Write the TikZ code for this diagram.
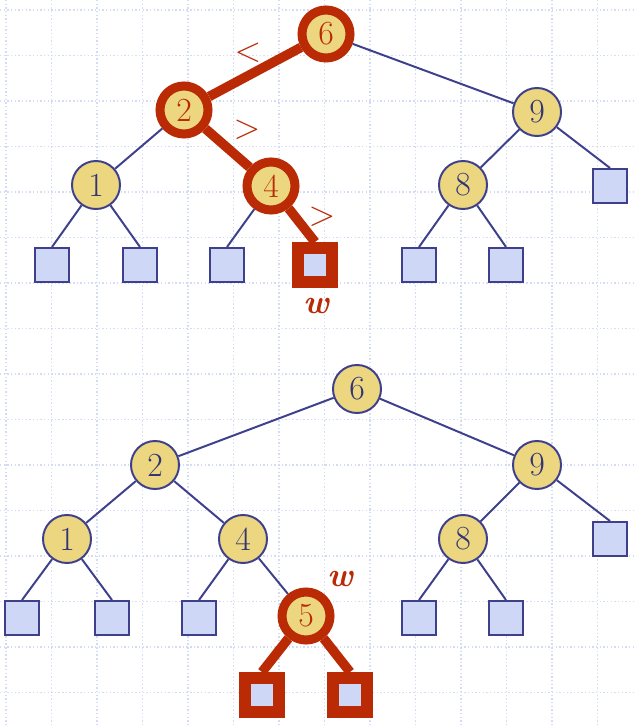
\documentclass[tikz,border=0pt]{standalone}

\definecolor{keyfill}{RGB}{236,214,128}
\definecolor{edgeblue}{RGB}{62,64,140}
\definecolor{keytext}{RGB}{50,52,115}
\definecolor{leaffill}{RGB}{206,216,246}
\definecolor{pathred}{RGB}{185,42,5}
\definecolor{gridblue}{RGB}{212,220,245}

\begin{document}
\begin{tikzpicture}[
  x=0.025cm, y=-0.025cm,
  key/.style={circle, draw=edgeblue, line width=1.4pt, fill=keyfill, inner sep=0pt,
              minimum size=1.2cm, text=keytext, font=\fontsize{24}{26}\selectfont},
  keyred/.style={key, draw=pathred, line width=6.4pt, text=pathred},
  leaf/.style={rectangle, draw=edgeblue, line width=1.4pt, fill=leaffill, inner sep=0pt,
               minimum size=0.85cm},
  leafred/.style={leaf, draw=pathred, line width=8.5pt},
  link/.style={draw=edgeblue, line width=1.4pt},
  linkred/.style={draw=pathred, line width=6.8pt},
  cmp/.style={text=pathred, font=\fontsize{24}{26}\selectfont},
  wlabel/.style={text=pathred, font=\fontsize{24}{26}\selectfont\bfseries\itshape},
  gridline/.style={draw=gridblue, line width=0.8pt, dash pattern=on 1pt off 1.6pt}
]

% page and dotted grid
\fill[white] (0,0) rectangle (634,727);
\useasboundingbox (0,0) rectangle (634,727);
\foreach \gx in {0,...,13} \draw[gridline] ({6+45.5*\gx},0) -- ++(0,727);
\foreach \gy in {0,...,15} \draw[gridline] (0,{10+45.5*\gy}) -- ++(634,0);

% top tree: search for 5
\node[keyred] (t6) at (326,34)  {6};
\node[keyred] (t2) at (184,110) {2};
\node[key]    (t9) at (537,112) {9};
\node[key]    (t1) at (96,185)  {1};
\node[keyred] (t4) at (271,186) {4};
\node[key]    (t8) at (463,185) {8};

\node[leaf]     (t9r) at (610,186) {};
\node[leaf]     (t1l) at (52,265)  {};
\node[leaf]     (t1r) at (140,265) {};
\node[leaf]     (t4l) at (227,265) {};
\node[leafred]  (t4r) at (315,265) {};
\node[leaf]     (t8l) at (419,265) {};
\node[leaf]     (t8r) at (506,265) {};

\node[cmp]    (lt)  at (248,53)  {$<$};
\node[cmp]    (gt1) at (247,130) {$>$};
\node[cmp]    (gt2) at (322,217) {$>$};
\node[wlabel] (tw)  at (316,306) {w};

\draw[linkred] (t6) -- (t2);
\draw[link]    (t6) -- (t9);
\draw[link]    (t2) -- (t1);
\draw[linkred] (t2) -- (t4);
\draw[link]    (t9) -- (t8);
\draw[link]    (t9) -- (t9r.north);
\draw[link]    (t1) -- (t1l.north);
\draw[link]    (t1) -- (t1r.north);
\draw[link]    (t4) -- (t4l.north);
\draw[linkred] (t4) -- (t4r.north);
\draw[link]    (t8) -- (t8l.north);
\draw[link]    (t8) -- (t8r.north);

% bottom tree: after inserting 5
\node[key]    (b6) at (357,389) {6};
\node[key]    (b2) at (155,465) {2};
\node[key]    (b9) at (537,465) {9};
\node[key]    (b1) at (67,539)  {1};
\node[key]    (b4) at (243,539) {4};
\node[key]    (b8) at (463,539) {8};
\node[keyred] (b5) at (306,616) {5};

\node[leaf]    (b9r) at (610,539) {};
\node[leaf]    (b1l) at (22,618)  {};
\node[leaf]    (b1r) at (112,618) {};
\node[leaf]    (b4l) at (199,618) {};
\node[leaf]    (b8l) at (419,618) {};
\node[leaf]    (b8r) at (506,618) {};
\node[leafred] (b5l) at (262,695) {};
\node[leafred] (b5r) at (350,695) {};

\node[wlabel] (bw) at (340,579) {w};

\draw[link]    (b6) -- (b2);
\draw[link]    (b6) -- (b9);
\draw[link]    (b2) -- (b1);
\draw[link]    (b2) -- (b4);
\draw[link]    (b9) -- (b8);
\draw[link]    (b9) -- (b9r.north);
\draw[link]    (b1) -- (b1l.north);
\draw[link]    (b1) -- (b1r.north);
\draw[link]    (b4) -- (b4l.north);
\draw[link]    (b4) -- (b5);
\draw[link]    (b8) -- (b8l.north);
\draw[link]    (b8) -- (b8r.north);
\draw[linkred] (b5) -- (b5l.north);
\draw[linkred] (b5) -- (b5r.north);

\end{tikzpicture}
\end{document}
